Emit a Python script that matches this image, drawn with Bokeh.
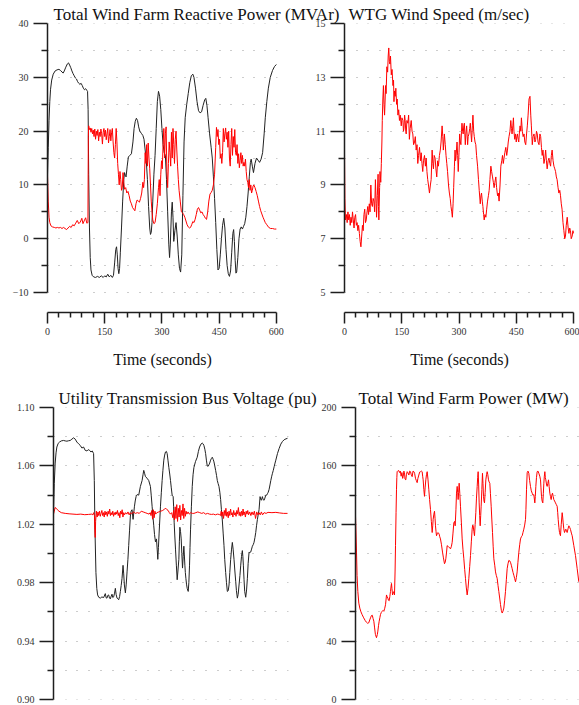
from bokeh.plotting import figure
from bokeh.layouts import row, column
from bokeh.models import Range1d, FixedTicker, Grid, PrintfTickFormatter
from bokeh.embed import file_html
from bokeh.resources import INLINE

SERIF = "Liberation Serif"
AXIS_COLOR = "#1e1e1e"
DOT_COLOR = "#9a9a9a"

# ---------------- ticks and labels ----------------
TIME_TICKS = [0, 150, 300, 450, 600]
TIME_MINOR = [30, 60, 90, 120, 180, 210, 240, 270, 330, 360, 390, 420, 480, 510, 540, 570]
TIME_LABEL = "Time (seconds)"

Q_TICKS = [-10, 0, 10, 20, 30, 40]
Q_MINOR = [-5, 5, 15, 25, 35]
WS_TICKS = [5, 7, 9, 11, 13, 15]
WS_MINOR = [6, 8, 10, 12, 14]
V_TICKS = [0.90, 0.94, 0.98, 1.02, 1.06, 1.10]
V_MINOR = [0.92, 0.96, 1.00, 1.04, 1.08]
P_TICKS = [0, 40, 80, 120, 160, 200]
P_MINOR = [20, 60, 100, 140, 180]

TITLE_Q = "Total Wind Farm Reactive Power (MVAr)"
TITLE_WS = "WTG Wind Speed (m/sec)"
TITLE_V = "Utility Transmission Bus Voltage (pu)"
TITLE_P = "Total Wind Farm Power (MW)"

# ---------------- series (time s, value) ----------------
Q_BLACK = [(0,11.6),(2,17),(4,22),(6,25.5),(8,27.8),(11,29.5),(15,30.6),(20,31.2),(25,31.4),(30,31.5),
(34,31.3),(38,31.0),(41,30.8),(44,31.2),(48,31.9),(52,32.5),(55,32.7),(58,32.3),(61,31.8),(64,31.2),
(67,30.7),(70,30.3),(73,29.9),(76,29.7),(79,29.2),(82,28.9),(85,28.7),(88,28.9),(91,28.5),(94,28.0),
(97,27.7),(100,27.9),(103,27.6),(105,27.4),(106.5,24),(108,12),(110,2),(112,-3.5),(114,-5.8),(117,-6.8),
(121,-7.1),(126,-7.2),(131,-7.0),(136,-7.2),(141,-6.9),(146,-7.2),(150,-6.9),(154,-7.1),(158,-6.6),(162,-7.1),
(166,-6.8),(170,-7.2),(173,-6.8),(176,-4.5),(179,-2),(181,-1.5),(183,-3),(185,-5.5),(187,-6.5),(189,-5.5),
(191,-2.5),(194,2),(197,7),(200,11),(202,12.3),(204,11.8),(206,11.5),(209,13.5),(212,15.2),(216,15.5),
(220,15.8),(224,18),(227,20.5),(230,21.8),(233,22.4),(236,22),(239,20.8),(242,20),(246,19.6),(250,19.2),
(253,18.5),(256,16.5),(259,14.5),(262,11),(265,6),(268,2),(270,0.8),(272,1.2),(274,3),(276,7),
(279,12),(282,15.5),(285,20.5),(288,25.5),(291,27.4),(294,26.5),(297,24),(300,20.5),(303,17.5),(306,16),
(309,15.5),(312,11),(315,5),(318,-1),(320,-3.5),(322,-1),(325,5),(327,6.8),(329,4),(331,-0.5),
(334,1.5),(337,3),(340,0.5),(343,-3),(346,-5.5),(349,-6.2),(352,-3),(355,8),(358,18),(361,22.5),
(365,25),(369,27),(373,29),(377,30.3),(381,30.6),(384,30),(388,28),(392,25.5),(396,23.8),(400,23.4),
(404,23.6),(408,24.8),(412,25.8),(415,26.1),(418,24.8),(421,22.5),(425,19.5),(429,17),(432,15),(435,11.5),
(438,7.5),(441,3),(444,-2),(447,-5.8),(450,-5.5),(453,-3),(456,0),(459,2.5),(462,3.8),(465,2),
(468,-2),(471,-5),(474,-6.5),(477,-7),(480,-6),(483,-2.5),(486,1),(488,1.7),(490,-0.5),(492,-4),
(494,-6.4),(496,-6.2),(499,-3.5),(502,0),(505,1.8),(508,2.2),(511,1.8),(514,2.3),(517,2.8),(520,4),
(523,6),(526,8.5),(529,11.5),(532,14.2),(534,14.8),(537,13.5),(540,12.3),(544,14),(548,15),(552,14.6),
(556,14.2),(560,14.8),(564,16),(568,19.5),(571,22.5),(575,25.5),(579,28),(584,30),(590,31.3),(595,32),(600,32.4)]

Q_RED = [(0,12),(2,7),(4,4),(6,3),(9,2.4),(13,2.2),(18,2.1),(22,2.0),(26,2.1),(30,2.0),
(34,2.1),(38,1.9),(42,2.1),(46,1.9),(50,1.7),(54,2.0),(58,2.3),(62,2.1),(66,2.6),(70,2.4),
(74,2.9),(78,3.4),(82,2.8),(86,3.1),(90,3.8),(93,2.8),(96,3.3),(100,3.9),(103,2.9),(106,3.0),
(107,19),(108,21),(110,20.3),(112,20.6),(114,19.8),(116,20.5),(118,19.5),(120,20.2),(122,19.0),(124,20.4),
(126,18.5),(128,20.0),(130,19.2),(132,20.3),(134,18.2),(136,19.8),(138,19.0),(140,20.4),(142,19.5),(144,17.6),
(146,19.8),(148,20.5),(150,19.0),(152,20.2),(154,18.4),(156,19.5),(158,20.5),(160,17.8),(162,19.0),(164,20.3),
(166,18.2),(168,19.7),(170,20.5),(172,18.0),(174,16.0),(176,15.0),(178,17.5),(180,20.5),(182,18.0),(184,14.0),
(186,12.0),(188,10.0),(190,12.5),(192,11.0),(194,9.0),(196,9.5),(198,12.3),(200,10.5),(202,9.2),(205,9.5),
(208,8.5),(211,8.8),(214,8.0),(217,7.0),(220,6.5),(223,5.8),(226,5.5),(229,5.2),(232,6.5),(235,7.2),
(238,7.0),(241,6.8),(244,7.5),(247,8.5),(250,10.5),(252,9.5),(254,11.0),(256,16.0),(258,14.0),(260,17.5),
(262,13.5),(264,17.8),(266,15.0),(268,13.0),(270,10.0),(272,7.0),(274,5.0),(276,3.5),(279,2.8),(282,3.0),
(285,4.5),(288,6.5),(291,9.5),(293,11.0),(295,8.0),(297,12.0),(299,14.5),(301,13.0),(303,17.5),(305,20.5),
(307,15.0),(309,19.5),(311,20.8),(313,12.5),(315,9.5),(317,14.0),(319,18.0),(321,16.0),(323,13.5),(325,19.8),
(327,15.0),(329,20.5),(331,17.5),(333,14.0),(335,18.5),(337,20.0),(339,16.5),(341,13.5),(343,11.0),(345,9.0),
(348,7.0),(351,5.0),(354,4.8),(357,4.5),(360,4.0),(363,3.3),(366,2.6),(369,2.2),(372,2.0),(375,2.1),
(378,2.6),(381,3.2),(384,3.0),(387,3.6),(390,4.5),(393,5.5),(396,5.8),(399,5.3),(402,4.8),(405,5.0),
(408,4.5),(411,4.2),(414,3.8),(417,3.6),(420,5.0),(423,7.0),(426,8.3),(429,8.6),(432,9.0),(435,10.0),
(438,12.0),(441,17.0),(443,20.7),(445,19.0),(447,20.3),(449,17.5),(451,18.5),(453,15.0),(455,15.8),(457,14.0),
(459,16.0),(461,20.5),(463,18.0),(465,19.5),(467,20.6),(469,18.5),(471,19.8),(473,17.0),(475,20.0),(477,15.0),
(479,13.5),(481,17.5),(483,20.5),(485,15.5),(487,19.0),(489,17.0),(491,20.3),(493,16.0),(495,15.5),(497,17.5),
(499,14.0),(501,15.8),(503,13.2),(505,14.5),(507,16.0),(509,14.0),(511,15.5),(513,13.5),(515,14.2),(517,13.5),
(519,14.8),(521,12.5),(523,11.0),(525,10.5),(527,9.5),(529,11.0),(531,9.0),(533,10.0),(535,8.5),(537,9.0),
(539,9.8),(541,10.0),(544,9.5),(547,8.8),(550,8.0),(553,7.0),(556,6.0),(559,5.2),(562,4.6),(565,4.0),
(568,3.5),(571,3.0),(575,2.6),(580,2.1),(585,1.9),(590,1.9),(595,1.8),(600,1.8)]

WIND_SPEED = [(0,10.2),(1,8.5),(2.5,7.7),(5,7.9),(7,7.6),(9,8.0),(11,7.7),(13,7.9),(15,7.5),(17,7.8),
(19,7.6),(21,8.0),(23,7.7),(25,7.4),(27,7.8),(29,7.9),(31,7.5),(33,7.6),(35,7.3),(37,7.5),
(39,7.2),(41,6.9),(43,6.7),(45,7.1),(47,7.5),(49,7.3),(51,7.9),(53,8.1),(55,7.6),(57,7.7),
(59,8.0),(61,8.2),(63,7.9),(65,8.3),(67,8.0),(69,9.0),(71,8.3),(73,8.2),(75,8.5),(77,8.4),
(79,8.0),(81,9.2),(83,8.3),(84,7.8),(86,8.6),(88,9.4),(89,8.2),(90,7.7),(92,8.9),(93,9.5),
(95,9.1),(96.5,9.8),(98,10.6),(99,11.4),(100.5,12.2),(102,12.7),(103.5,12.0),(105,11.6),(106.5,12.2),(107.5,12.7),
(109,12.4),(111,13.4),(113,13.2),(114.5,13.8),(116,14.1),(117.5,13.6),(119,13.5),(120.5,13.8),(122.6,13.1),(124.5,13.3),
(127,12.7),(128.5,12.9),(129.6,12.1),(131,12.5),(133,12.3),(134.5,12.6),(136.5,12.0),(138,12.2),(140,11.6),(142,11.8),
(144,11.4),(146,11.6),(148.7,11.2),(150.5,11.5),(153,11.4),(154.5,11.0),(155.7,11.1),(157.5,11.6),(159,11.4),(160.5,11.0),
(161.7,10.9),(163.5,11.4),(166,11.3),(168,11.6),(170,10.7),(172,11.1),(174.8,11.4),(177,11.0),(179,10.9),(181,10.5),
(183.5,10.6),(185.5,10.8),(187.8,10.3),(190,10.5),(192,9.8),(194,10.1),(196.5,10.4),(199,9.9),(201,10.2),(203,9.8),
(205,9.5),(207,9.9),(209.6,10.1),(212,9.7),(214,10.0),(216,9.5),(218,9.2),(220,9.0),(222.6,8.7),(225,9.0),
(227,9.2),(229.6,10.3),(231.5,9.8),(233,9.6),(235,10.1),(237.4,10.0),(239.5,9.6),(241.7,9.3),(244,9.9),(246,9.7),
(248.7,10.1),(251,10.3),(253,10.6),(255.7,11.2),(257.5,10.8),(259,10.3),(261.7,10.9),(264,10.5),(266,10.1),(268,9.8),
(270,9.5),(272.5,9.0),(274.8,8.7),(277,8.5),(279,8.2),(281,8.0),(282.6,7.8),(284.5,8.3),(286,8.9),(288,9.7),
(289.6,10.3),(291,9.9),(292,10.0),(294.8,10.6),(296.5,10.1),(298,9.5),(300,10.2),(301.7,10.9),(303.5,10.6),(305,10.5),
(306.5,11.0),(307.8,11.3),(309.5,11.0),(311,10.9),(312.5,11.2),(314,11.3),(316.5,10.5),(318,10.9),(320,11.2),(322.6,10.5),
(324,10.8),(326,10.9),(328,11.1),(329.6,11.3),(331.5,10.9),(333,10.6),(335,11.2),(336.5,11.6),(338.5,11.0),(340,10.8),
(342,10.6),(344,10.5),(346,10.1),(348.7,9.7),(351,9.2),(353,8.8),(355.7,8.3),(357.5,8.6),(359,8.7),(361,8.4),
(362.6,8.2),(364.5,7.9),(366,7.7),(368,7.9),(370.4,7.8),(372.5,8.1),(374.8,8.4),(377,8.6),(379,8.8),(381,9.2),
(383.5,9.7),(385.5,9.5),(387.8,9.3),(390,9.1),(392,8.9),(394,9.1),(396.5,9.3),(398.5,8.9),(401,8.6),(403,8.7),
(405,8.4),(407.5,9.0),(409.6,9.7),(412,9.9),(414,10.1),(416,9.8),(418,10.0),(420,10.2),(422.6,10.4),(425,10.1),
(427,10.3),(429,10.6),(431,10.8),(433.5,11.0),(435.7,11.4),(437.5,11.1),(439,10.9),(441,11.2),(442.6,11.5),(444,11.0),
(446,10.7),(448,10.9),(450,10.6),(451.5,10.8),(453,10.9),(455,10.7),(456.5,10.6),(458,10.9),(460,11.2),(462,11.0),
(463.5,11.5),(465,11.2),(466,11.0),(468,10.8),(470.4,10.9),(472.5,10.6),(474.8,10.5),(477,10.9),(479,11.2),(481,11.6),
(483.5,12.2),(486,12.3),(488,11.6),(489.6,11.2),(491,10.8),(492,10.5),(494,10.8),(496.5,10.9),(499,10.6),(501,10.7),
(503,11.0),(505,10.9),(507,10.6),(509.6,10.5),(512,10.9),(514,10.8),(516,10.4),(518,10.1),(520,10.3),(522.6,9.8),
(525,10.0),(527,10.3),(529,9.9),(531,9.6),(533.5,9.9),(535.7,10.0),(538,9.8),(540,9.7),(542,10.1),(544,10.3),
(546.5,9.9),(548.7,9.7),(551,9.6),(553,9.5),(555,9.3),(557,9.2),(559.5,8.9),(561.7,8.7),(564,8.8),(566,8.6),
(568,8.3),(570,8.1),(572.5,7.6),(574.8,7.3),(577,7.0),(579,7.1),(581,7.5),(583.5,7.8),(586,7.4),(588,7.2),
(590,7.4),(592,7.3),(594,7.0),(596.5,7.1),(598.5,7.3),(600,7.2)]

V_BLACK = [(0,1.028),(2,1.048),(4.3,1.062),(6.5,1.069),(8.6,1.073),(12,1.0755),(15.4,1.0764),(20,1.0772),(25.7,1.0775),(30,1.0772),
(34.3,1.0770),(38.5,1.0773),(42.9,1.0775),(47.1,1.0784),(51.4,1.0793),(55.7,1.0784),(60,1.0764),(64.3,1.0752),(68.6,1.0741),(72.9,1.0723),
(77.1,1.0730),(81.4,1.0707),(85.7,1.0703),(89,1.0712),(92.6,1.0707),(96,1.0696),(99.4,1.0703),(102.8,1.0685),(104.6,1.050),(106.3,1.0167),
(108.8,0.987),(111,0.976),(113.1,0.9716),(116,0.9700),(120,0.9694),(124,0.9702),(128.6,0.9698),(132.8,0.9725),(135,0.9696),(137.1,0.9694),
(139,0.9712),(141.4,0.9716),(143.5,0.9695),(145.7,0.9689),(148,0.9708),(150,0.9721),(152,0.9698),(154.3,0.9703),(156.5,0.9728),(158.6,0.9761),
(160.5,0.9720),(162.9,0.9694),(165,0.9690),(167.1,0.9683),(169.5,0.9705),(171.4,0.9739),(173.5,0.9780),(175.7,0.9829),(178.3,0.9919),(180,0.9860),
(181.7,0.9784),(184.3,0.9730),(186.5,0.9790),(188.6,0.9874),(190.8,0.9960),(192.8,1.0054),(195,1.0160),(197.1,1.0257),(199,1.0290),(201.4,1.030),
(204,1.0234),(207.4,1.032),(209.5,1.036),(211.7,1.039),(215,1.0405),(218.5,1.040),(222.8,1.046),(227.1,1.050),(229.5,1.054),(231.4,1.057),
(233.5,1.055),(235.7,1.0527),(240,1.0516),(244.2,1.050),(248.5,1.046),(250.5,1.040),(252.8,1.0324),(255,1.025),(257.1,1.019),(259,1.013),
(261.4,1.008),(264,1.010),(265.8,1.003),(267.4,0.996),(269,1.004),(270.8,1.014),(272.5,1.023),(274.2,1.032),(276.5,1.042),(278.5,1.050),
(280.5,1.057),(282.8,1.064),(285,1.0675),(287.1,1.0696),(289.5,1.0700),(291.4,1.0685),(293.5,1.064),(295.7,1.059),(298,1.0545),(300,1.050),
(302,1.045),(304.2,1.040),(306.8,1.039),(308,1.032),(309.4,1.021),(311,1.012),(312.8,1.003),(315,0.992),(317.1,0.982),(319,0.988),
(321.4,0.996),(322.7,1.008),(324,1.018),(325.7,1.015),(327.4,1.010),(329,1.000),(330.8,0.990),(332.5,0.998),(334.2,1.005),(335.5,0.999),
(336.8,0.992),(338,0.987),(339.4,0.983),(341,0.979),(342.8,0.976),(345.4,0.974),(347,0.980),(348.8,0.992),(350,1.004),(351.4,1.0167),
(353.5,1.032),(355.7,1.046),(357.8,1.054),(360,1.059),(364,1.063),(368.5,1.066),(371.5,1.070),(374.5,1.073),(378,1.0750),(381.4,1.0757),
(383.5,1.0752),(385.7,1.074),(388,1.0715),(390,1.0685),(392,1.064),(394.2,1.060),(396.5,1.0598),(398.5,1.0608),(400.5,1.062),(402.8,1.064),
(405,1.0652),(407.1,1.066),(409.5,1.0645),(411.4,1.0628),(413.5,1.060),(415.7,1.057),(418,1.0535),(420,1.050),(422,1.048),(424.2,1.046),
(426.5,1.042),(428.5,1.037),(430.5,1.030),(432.8,1.023),(435,1.014),(437.1,1.0054),(439,0.996),(441.4,0.987),(443.5,0.980),(445.7,0.974),
(448,0.9745),(450,0.9784),(452,0.987),(454.2,0.996),(456.5,1.003),(458.5,1.0076),(460.5,1.003),(462.8,0.996),(465,0.988),(467.1,0.981),
(469,0.9745),(471.4,0.9694),(473.5,0.972),(475.7,0.9784),(478,0.985),(480,0.992),(482,0.998),(484.2,1.002),(485.5,0.998),(486.8,0.992),
(488.5,0.982),(490.2,0.974),(492.8,0.970),(495,0.975),(497.1,0.983),(499,0.993),(501.4,1.001),(503.5,1.0005),(505.6,1.001),(507.8,1.003),
(509.9,1.005),(512,1.006),(514.2,1.0077),(516.5,1.011),(518.5,1.0144),(520.5,1.019),(522.8,1.0234),(525,1.027),(527,1.030),(529.6,1.039),
(531.5,1.037),(533,1.0365),(535.6,1.039),(537.5,1.037),(539.9,1.0365),(542,1.038),(544.2,1.040),(546.5,1.040),(548.5,1.041),(550.5,1.042),
(552.8,1.044),(555,1.047),(557.1,1.050),(559.5,1.053),(561.4,1.055),(563.5,1.057),(565.7,1.0595),(568,1.062),(570,1.064),(574.2,1.0685),
(578.5,1.072),(582.8,1.075),(587,1.0768),(591.4,1.078),(596,1.0786),(600,1.079)]

V_RED = [(0,1.027),(2,1.029),(4,1.0315),(7,1.031),(10,1.030),(14,1.029),(20,1.028),(30,1.0275),(40,1.0272),(50,1.0270),
(60,1.0268),(70,1.027),(80,1.0266),(90,1.0268),(98,1.027),(101,1.0265),(103,1.028),(105,1.026),(106,1.016),(107,1.011),
(108,1.022),(110,1.029),(112,1.025),(114,1.0285),(116,1.026),(118,1.029),(120,1.0255),(122,1.0275),(124,1.0295),(126,1.026),
(128,1.028),(130,1.025),(132,1.029),(134,1.0265),(136,1.0285),(138,1.0255),(140,1.029),(142,1.027),(144,1.0305),(146,1.026),
(148,1.028),(150,1.0265),(152,1.029),(154,1.0255),(156,1.028),(158,1.0265),(160,1.0285),(162,1.027),(164,1.0295),(166,1.026),
(168,1.028),(170,1.0245),(172,1.029),(174,1.027),(176,1.030),(178,1.025),(180,1.028),(182,1.0265),(185,1.028),(188,1.027),
(191,1.0285),(194,1.0265),(197,1.028),(200,1.027),(205,1.0285),(210,1.0275),(215,1.028),(220,1.0275),(225,1.029),(230,1.0285),
(235,1.028),(240,1.0275),(245,1.027),(248,1.028),(250,1.026),(252,1.0295),(254,1.0235),(256,1.030),(258,1.0245),(260,1.029),
(262,1.027),(265,1.028),(270,1.0285),(275,1.029),(280,1.0295),(285,1.0305),(288,1.031),(291,1.030),(294,1.0295),(297,1.028),
(300,1.027),(303,1.028),(306,1.0245),(308,1.0295),(310,1.023),(312,1.032),(314,1.024),(316,1.0335),(318,1.022),(320,1.031),
(322,1.025),(324,1.033),(326,1.023),(328,1.0295),(330,1.026),(332,1.034),(334,1.024),(336,1.031),(338,1.0255),(340,1.029),
(342,1.027),(345,1.0285),(348,1.027),(352,1.028),(356,1.0275),(360,1.0275),(365,1.028),(370,1.0285),(375,1.028),(380,1.0275),
(385,1.028),(390,1.027),(395,1.0275),(400,1.027),(405,1.0268),(410,1.027),(415,1.0265),(420,1.027),(425,1.0268),(428,1.026),
(430,1.029),(432,1.0255),(434,1.0285),(436,1.024),(438,1.0295),(440,1.026),(442,1.031),(444,1.0255),(446,1.0285),(448,1.0245),
(450,1.029),(452,1.026),(454,1.0305),(456,1.0265),(458,1.028),(460,1.025),(462,1.0295),(464,1.0265),(466,1.028),(468,1.0255),
(470,1.0295),(472,1.027),(474,1.0315),(476,1.026),(478,1.0285),(480,1.0255),(482,1.029),(484,1.026),(486,1.0305),(488,1.0265),
(490,1.0285),(492,1.025),(494,1.029),(496,1.027),(498,1.0295),(500,1.0265),(503,1.0285),(506,1.026),(509,1.0285),(512,1.0265),
(515,1.029),(518,1.024),(521,1.0285),(524,1.0265),(527,1.028),(530,1.0265),(533,1.0285),(536,1.0265),(540,1.028),(545,1.0275),
(550,1.0282),(560,1.028),(570,1.0282),(580,1.0278),(590,1.0275),(600,1.0275)]

P_TOTAL = [(0,125.7),(1.5,112),(2.6,101),(4,85),(6,74),(8.5,66),(11,62.6),(14,60),(17,58.1),(21,55.9),
(25,54),(28,52.9),(31,52.2),(34,52.5),(36.5,54.5),(38.5,55.9),(41,57.5),(43,57.7),(45,55.5),(47,53.6),
(49,49),(51,44.6),(53.8,42.3),(56,44.5),(57.3,46.8),(59,50.5),(60.7,53.6),(62.5,56),(64,58.1),(66,59.5),
(68.4,60.4),(70.5,61),(72.6,60.4),(75,62.5),(77,64.9),(79.5,71.6),(81,70.5),(83,69.4),(84.5,68),(86.3,67.6),
(88,70.5),(89.7,73.9),(91,77),(92.3,79.5),(93.5,76),(95,71.6),(96.5,73),(98.3,73.9),(100,71.6),(101.5,88),
(102.6,105.4),(104,128),(105.1,143.7),(106,152),(106.8,156.1),(109,156.8),(111,156.8),(113,155.5),(115,156.5),(117,153),
(119,155.5),(121,151.5),(122.2,152.7),(124,156.5),(125.6,155.5),(127,151),(129,150.5),(130.5,154),(132.5,156.1),(134.5,155.3),
(136.8,153.8),(139,156.5),(141,156.1),(143,154),(145.3,152.7),(147.5,156.5),(149.6,156.1),(151.5,155),(153.8,151.6),(156,150),
(158.1,148.6),(160,151.5),(162.4,153.8),(164.5,155.8),(166.7,156.1),(169,156.5),(170.9,156.1),(172.2,153),(173.5,150.5),(175.2,144),
(176.9,139.2),(178.5,145),(180.3,150.5),(182,154),(183.8,156.1),(185.8,151),(188,143.7),(190,137),(192.3,130.2),(194.5,122),
(196.6,114.4),(198,119),(199.1,123.4),(201,127),(202.6,129),(204,124),(205.1,119),(206.5,115),(207.7,112.2),(209.5,113.5),
(211.1,114.4),(213,114),(214.5,113.3),(216,111.5),(217.9,110),(220.5,106),(223.1,101),(225.5,97),(228.2,93),(230,94),
(231.6,96.4),(233.5,101),(235,105.4),(237,105),(239.3,104.3),(241.5,104),(243.6,103.2),(246,105),(247.9,107.7),(250,114),
(252.1,121),(254,122),(255.6,119),(257.5,130),(259,141.4),(260.7,146),(262,142),(263.2,137),(264.5,142),(265.8,148.2),
(267.5,141),(269.2,132.4),(271.5,121),(273.5,110),(275.5,103),(277.8,96.4),(280,89),(282,83),(284,77),(286.3,71.6),
(288.5,76),(290.6,83),(292.8,91),(294.9,98.6),(297,108),(299.1,116.7),(300.5,119.5),(301.7,119),(303.5,115),(305.1,112.2),
(306.8,120),(308.5,128),(310.2,138),(312,146),(313.3,152),(314.5,156.1),(315.8,147),(317.1,134.7),(318.4,126),(319.7,119),
(321,126),(322.2,132.4),(324,144),(325.6,155),(326.9,148),(328.2,139.2),(329.5,136),(330.8,134.7),(332.5,142),(334.2,150.5),
(336,154),(337.6,156.1),(339.3,154),(341,150.5),(342.7,149),(344.4,148.2),(346,141),(347.9,132.4),(349.6,123),(351.3,114.4),
(353,105),(354.7,96.4),(357,92),(359,87.4),(361,85),(363.2,83),(365.5,78),(367.5,74),(369.7,69.5),(371.8,65),
(374,61),(376.1,59.2),(378.2,60.5),(380.3,62.6),(382.5,68),(384.6,74),(386.8,82),(388.9,89.6),(391,93),(393.2,95.3),
(395.3,95),(397.4,94),(399.5,92),(401.7,89.6),(404,87),(406,85.1),(408,83),(410.3,80.6),(412.5,83.5),(414.5,87.4),
(416.5,94),(418.8,100.9),(421,106),(423.1,110),(425.3,111.5),(427.4,112.2),(429.5,114.5),(431.6,116.7),(433.8,119.5),(435.9,123.4),
(437,130),(438.5,143.7),(440.2,155.4),(442.3,156.5),(444.4,155),(446.5,150),(448.7,146),(450.8,143),(453,141.4),(455,140),
(457.3,140.3),(459.8,134.7),(461,139),(462.4,146),(464,152),(465.8,156.1),(468,156.5),(470.1,155),(472.5,153),(474.4,150.5),
(475.6,145),(476.9,139.2),(478.5,136),(480.3,134.7),(481.6,141),(482.9,148.2),(484.2,153),(485.5,156.1),(486.8,152),(488,150.5),
(490,147),(491.5,146),(493,148),(494.9,150.5),(496.5,146),(498.3,141.4),(500,139),(501.7,137),(503.4,140),(505.1,141.4),
(507,139),(508.5,137),(510.5,136),(512.8,134.7),(515,133.5),(517.1,132.4),(518.5,128),(519.7,123.4),(521.5,118),(523.1,114.4),
(524.5,113),(525.6,112.2),(527.5,120),(529.9,128),(531.2,125),(532.5,121),(534,117),(535.9,114.4),(537.5,115.5),(539.3,116.7),
(541,115.5),(542.7,114.4),(545,117),(547,119),(549,118),(551.3,116.5),(553.5,114),(555.6,112.2),(559.8,105.4),(564.1,98.6),
(568.4,89.6),(572.6,80.6)]


def dot_pattern(px_per_unit, n_steps):
    """1-px dots every 30 s along a horizontal grid line (integer dash lengths)."""
    pos = [round(k * 30 * px_per_unit) for k in range(n_steps + 1)]
    parts = []
    for a, b in zip(pos[:-1], pos[1:]):
        parts += ["1", str(b - a - 1)]
    return " ".join(parts)


def style_axis(ax, tick_out, minor_out, standoff):
    ax.axis_line_color = AXIS_COLOR
    ax.axis_line_width = 1.5
    ax.major_tick_line_color = AXIS_COLOR
    ax.major_tick_line_width = 1.5
    ax.minor_tick_line_color = AXIS_COLOR
    ax.minor_tick_line_width = 1.5
    ax.major_tick_in = 0
    ax.minor_tick_in = 0
    ax.major_tick_out = tick_out
    ax.minor_tick_out = minor_out
    ax.major_label_text_font = SERIF
    ax.major_label_text_font_size = "10px"
    ax.major_label_text_color = "#333333"
    ax.major_label_standoff = standoff


def panel(width, height, borders, x_end, y_range, yticks, yminor, ybounds, grid_rows,
          title, title_offset, series, time_axis, yfmt=None, margin=None):
    left, right, top, bottom = borders
    kw = dict(width=width, height=height,
              x_range=Range1d(0, x_end), y_range=Range1d(*y_range),
              output_backend="svg", toolbar_location=None,
              title=title, title_location="above",
              x_axis_location="below" if time_axis else None,
              min_border_left=left, min_border_right=right,
              min_border_top=top, min_border_bottom=bottom,
              border_fill_alpha=0, background_fill_alpha=0,
              outline_line_color=None)
    if margin is not None:
        kw["margin"] = margin
    p = figure(**kw)
    p.title.text_font = SERIF
    p.title.text_font_size = "17px"
    p.title.text_font_style = "normal"
    p.title.text_color = "#111111"
    p.title.align = "left"
    p.title.offset = title_offset
    p.title.standoff = 0
    p.xgrid.visible = False
    p.ygrid.visible = False

    frame_w = width - left - right
    p.add_layout(Grid(dimension=1, ticker=FixedTicker(ticks=grid_rows),
                      grid_line_color=DOT_COLOR, grid_line_width=1,
                      grid_line_dash=dot_pattern(frame_w / x_end, int(x_end // 30))))

    ya = p.yaxis[0]
    ya.ticker = FixedTicker(ticks=yticks, minor_ticks=yminor)
    ya.bounds = ybounds
    style_axis(ya, 14, 6, 5)
    if yfmt:
        ya.formatter = PrintfTickFormatter(format=yfmt)

    if time_axis:
        xa = p.xaxis[0]
        xa.ticker = FixedTicker(ticks=TIME_TICKS, minor_ticks=TIME_MINOR)
        xa.bounds = (0, 600)
        style_axis(xa, 11, 5, 4)
        xa.axis_label = TIME_LABEL
        xa.axis_label_text_font = SERIF
        xa.axis_label_text_font_size = "16px"
        xa.axis_label_text_font_style = "normal"
        xa.axis_label_text_color = "#111111"
        xa.axis_label_standoff = 13

    for data, color in series:
        t, v = zip(*data)
        p.line(list(t), list(v), line_color=color, line_width=1)
    return p


BLACK = "#222222"
RED = "#ff0000"

# page is drawn from (0, 0); 579 x 705 in total
tl = panel(342, 380, (47, 65, 23, 68), 603, (-13.717, 40.02), Q_TICKS, Q_MINOR, (-10, 40),
           Q_TICKS + Q_MINOR, TITLE_Q, 6, [(Q_BLACK, BLACK), (Q_RED, RED)], True)
tr = panel(267, 380, (31, 5, 23, 68), 602.6, (4.255, 15.01), WS_TICKS, WS_MINOR, (5, 15),
           WS_TICKS + WS_MINOR, TITLE_WS, 4, [(WIND_SPEED, RED)], True,
           margin=(0, 0, 0, -30))
bl = panel(328, 325, (53, 40, 27, 6), 602.5, (0.8999, 1.1001), V_TICKS, V_MINOR, (0.90, 1.10),
           V_TICKS + V_MINOR, TITLE_V, 5, [(V_BLACK, BLACK), (V_RED, RED)], False, yfmt="%.2f")
br = panel(263, 325, (39, 0, 27, 6), 574.36, (-0.07, 200.1), P_TICKS, P_MINOR, (0, 200),
           P_TICKS + P_MINOR, TITLE_P, 3, [(P_TOTAL, RED)], False,
           margin=(0, 0, 0, -12))

layout = column(row(tl, tr), row(bl, br))
open("out.html", "w").write(file_html(layout, INLINE))
